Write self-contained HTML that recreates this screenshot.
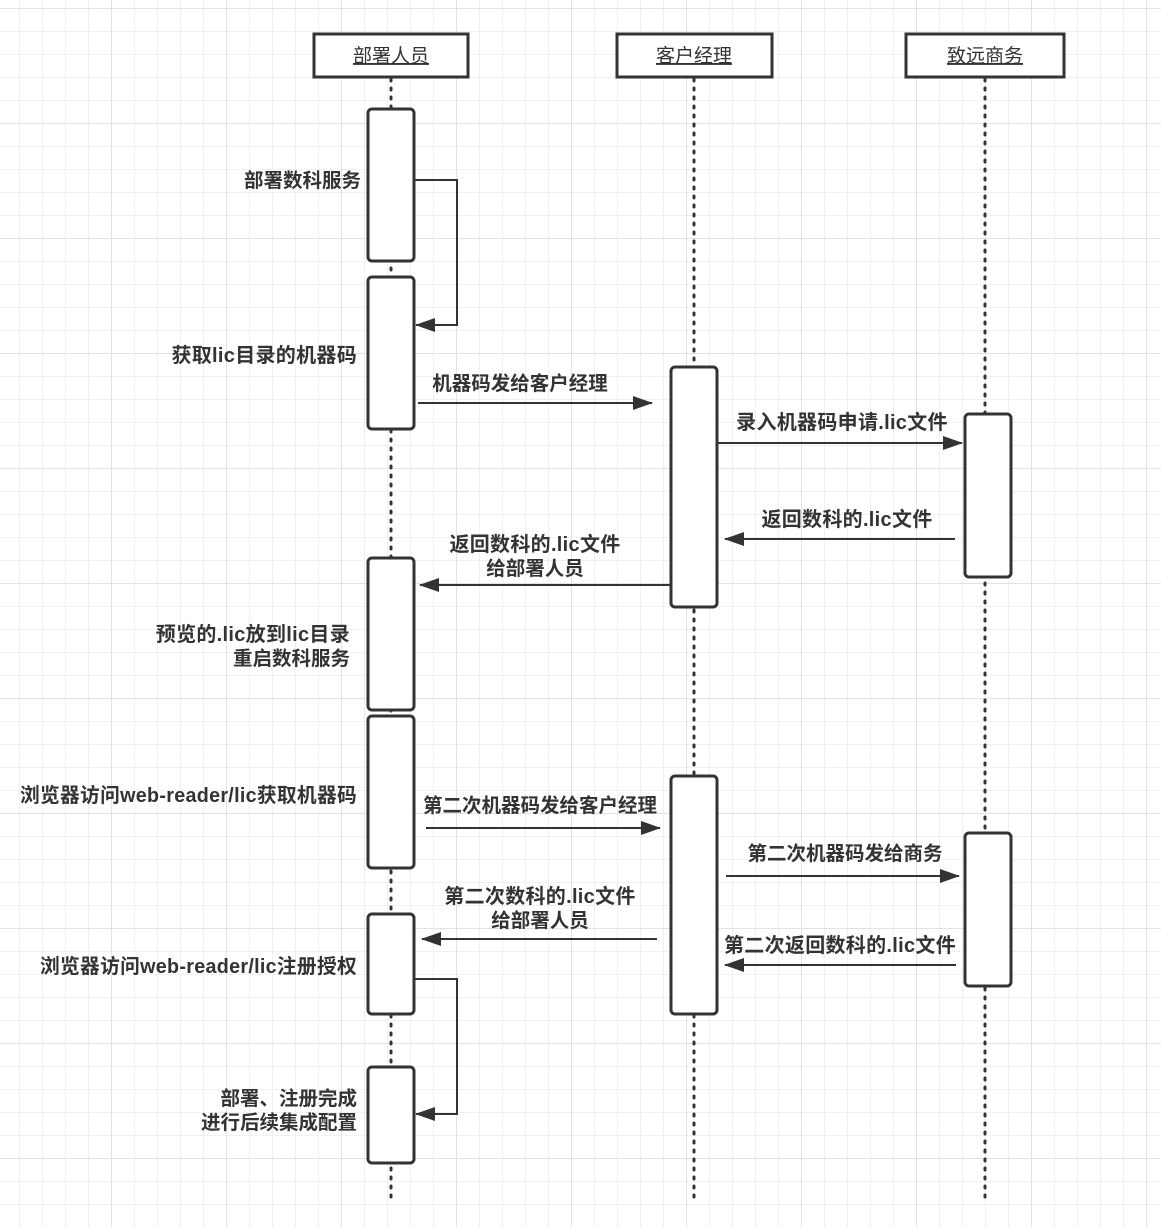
<!DOCTYPE html>
<html><head><meta charset="utf-8"><style>
html,body{margin:0;padding:0;background:#fff}
body{width:1161px;height:1227px;overflow:hidden;
background-image:
linear-gradient(#e2e2e2 1px,transparent 1px),linear-gradient(90deg,#e2e2e2 1px,transparent 1px),
linear-gradient(#f0f0f0 1px,transparent 1px),linear-gradient(90deg,#f0f0f0 1px,transparent 1px);
background-size:115px 115px,115px 115px,23px 23px,23px 23px;background-position:-4px 8px}
text{font-family:"Liberation Sans","Noto Sans CJK SC",sans-serif;font-size:19.5px;font-weight:bold;fill:#333}
.l{font-size:20px;letter-spacing:0.3px}
.h{font-weight:normal;text-decoration:underline;font-size:19px}
</style></head><body>
<svg width="1161" height="1227" style="position:absolute;left:0;top:0">
<defs><marker id="a" markerWidth="20" markerHeight="14" refX="19" refY="7" orient="auto" markerUnits="userSpaceOnUse"><path d="M0,0L20,7L0,14z" fill="#333"/></marker></defs>
<g stroke="#333" stroke-width="3" stroke-dasharray="2,7" stroke-linecap="round">
<line x1="391" y1="79" x2="391" y2="1200"/><line x1="694" y1="79" x2="694" y2="1200"/><line x1="985" y1="79" x2="985" y2="1200"/></g>
<g fill="#fff" stroke="#333" stroke-width="3">
<rect x="314" y="34" width="154" height="43"/><rect x="617" y="34" width="155" height="43"/><rect x="906" y="34" width="158" height="43"/>
<rect x="368" y="109" width="46" height="152" rx="4"/><rect x="368" y="277" width="46" height="152" rx="4"/>
<rect x="368" y="558" width="46" height="152" rx="4"/><rect x="368" y="716" width="46" height="152" rx="4"/>
<rect x="368" y="914" width="46" height="100" rx="4"/><rect x="368" y="1067" width="46" height="96" rx="4"/>
<rect x="671" y="367" width="46" height="240" rx="4"/><rect x="671" y="776" width="46" height="238" rx="4"/>
<rect x="965" y="414" width="46" height="163" rx="4"/><rect x="965" y="833" width="46" height="153" rx="4"/>
</g>
<g stroke="#333" stroke-width="2" fill="none" marker-end="url(#a)">
<polyline points="414,180 457,180 457,325 416,325"/>
<polyline points="414,979 457,979 457,1114 416,1114"/>
<line x1="418" y1="403" x2="652" y2="403"/>
<line x1="717" y1="443" x2="962" y2="443"/>
<line x1="955" y1="539" x2="725" y2="539"/>
<line x1="671" y1="585" x2="420" y2="585"/>
<line x1="426" y1="828" x2="660" y2="828"/>
<line x1="726" y1="876" x2="959" y2="876"/>
<line x1="657" y1="939" x2="422" y2="939"/>
<line x1="956" y1="965" x2="725" y2="965"/>
</g>
<g text-anchor="middle">
<text class="h" x="391" y="62">部署人员</text><text class="h" x="694" y="62">客户经理</text><text class="h" x="985" y="62">致远商务</text>
<text x="520" y="390">机器码发给客户经理</text>
<text class="l" x="842" y="429">录入机器码申请.lic文件</text>
<text class="l" x="847" y="526">返回数科的.lic文件</text>
<text class="l" x="535" y="551">返回数科的.lic文件</text><text x="535" y="575">给部署人员</text>
<text x="540" y="812">第二次机器码发给客户经理</text>
<text x="845" y="860">第二次机器码发给商务</text>
<text class="l" x="540" y="903">第二次数科的.lic文件</text><text x="540" y="927">给部署人员</text>
<text class="l" x="840" y="952">第二次返回数科的.lic文件</text>
</g>
<g text-anchor="end">
<text x="361" y="187">部署数科服务</text>
<text class="l" x="357" y="362">获取lic目录的机器码</text>
<text class="l" x="350" y="641">预览的.lic放到lic目录</text><text x="350" y="665">重启数科服务</text>
<text class="l" x="357" y="802" textLength="337" lengthAdjust="spacingAndGlyphs">浏览器访问web-reader/lic获取机器码</text>
<text class="l" x="357" y="973" textLength="317" lengthAdjust="spacingAndGlyphs">浏览器访问web-reader/lic注册授权</text>
<text x="357" y="1105">部署、注册完成</text><text x="357" y="1129">进行后续集成配置</text>
</g>
</svg>
</body></html>
